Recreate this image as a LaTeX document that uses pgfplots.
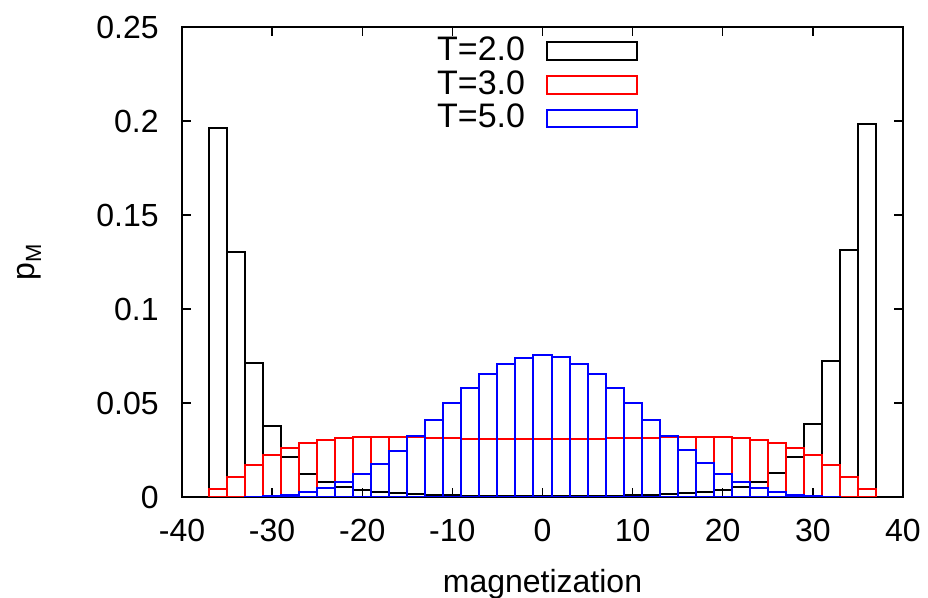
\documentclass[border=0pt]{standalone}
\usepackage{fontspec}
\setmainfont{Liberation Sans}
\usepackage{pgfplots}
\pgfplotsset{compat=1.18}
\pgfplotsset{legend image code/.code={\path (0pt,0pt); \draw[#1] (10.5pt,-4.4pt) rectangle (55.5pt,4.4pt);}}
\begin{document}
\fontsize{16}{19}\selectfont
\begin{tikzpicture}
\path[use as bounding box] (-91pt,-50.5pt) rectangle (373pt,248.5pt);
\begin{axis}[
  at={(0,0)}, anchor=south west,
  scale only axis, width=360.5pt, height=235pt,
  xmin=-40, xmax=40, ymin=0, ymax=0.25,
  axis line style={line width=0.8pt},
  xtick={-40,-30,-20,-10,0,10,20,30,40},
  xticklabels={-40,-30,-20,-10,0,10,20,30,40},
  ytick={0,0.05,0.1,0.15,0.2,0.25},
  yticklabels={0,0.05,0.1,0.15,0.2,0.25},
  tick align=inside, major tick length=4.5pt,
  tick style={line width=0.7pt, black},
  xticklabel style={anchor=base, yshift=-22.5pt, inner sep=0pt},
  yticklabel style={anchor=east, xshift=-11.5pt, inner sep=0pt},
  xlabel={magnetization},
  xlabel style={at={(axis description cs:0.5,-0.204)}, anchor=base, inner sep=0pt},
  ylabel={p\raisebox{-0.4ex}{\fontsize{11}{13}\selectfont M}},
  ylabel style={at={(axis description cs:-0.212,0.5)}, anchor=center, rotate=0},
  legend plot pos=right,
  legend cell align=right,
  legend style={draw=none, fill=none, at={(axis description cs:0.6325,1)}, anchor=north east,
    yshift=-5pt, inner sep=0pt, outer sep=0pt, row sep=2.5pt,
    font=\fontsize{17}{20}\selectfont,
    nodes={inner sep=0pt}},
]
\addplot[ybar, bar width=2, bar shift=0pt, draw=black, fill=none, line width=1pt] coordinates {
(-36,0.1964) (-34,0.1301) (-32,0.0714) (-30,0.0378) (-28,0.0213) (-26,0.0124)
(-24,0.0080) (-22,0.0052) (-20,0.0037) (-18,0.0025) (-16,0.0020) (-14,0.0014)
(-12,0.0010) (-10,0.0008) (-8,0.0007) (-6,0.0006) (-4,0.0006) (-2,0.0005)
(0,0.0005) (2,0.0005) (4,0.0006) (6,0.0006) (8,0.0007) (10,0.0008)
(12,0.0010) (14,0.0014) (16,0.0021) (18,0.0027) (20,0.0037) (22,0.0052)
(24,0.0080) (26,0.0126) (28,0.0213) (30,0.0387) (32,0.0723) (34,0.1314) (36,0.1984)
};
\addlegendentry{T=2.0}
\addplot[ybar, bar width=2, bar shift=0pt, draw=red, fill=none, line width=1pt] coordinates {
(-36,0.0043) (-34,0.0105) (-32,0.0169) (-30,0.0221) (-28,0.0261) (-26,0.0288)
(-24,0.0303) (-22,0.0314) (-20,0.0318) (-18,0.0320) (-16,0.0320) (-14,0.0318)
(-12,0.0315) (-10,0.0313) (-8,0.0311) (-6,0.0310) (-4,0.0310) (-2,0.0310)
(0,0.0310) (2,0.0310) (4,0.0310) (6,0.0311) (8,0.0312) (10,0.0313)
(12,0.0315) (14,0.0319) (16,0.0321) (18,0.0321) (20,0.0320) (22,0.0316)
(24,0.0303) (26,0.0289) (28,0.0262) (30,0.0222) (32,0.0170) (34,0.0105) (36,0.0044)
};
\addlegendentry{T=3.0}
\addplot[ybar, bar width=2, bar shift=0pt, draw=blue, fill=none, line width=1pt] coordinates {
(-32,0.0001) (-30,0.0005) (-28,0.0012) (-26,0.0025)
(-24,0.0046) (-22,0.0078) (-20,0.0121) (-18,0.0178) (-16,0.0246) (-14,0.0324)
(-12,0.0412) (-10,0.0498) (-8,0.0578) (-6,0.0653) (-4,0.0709) (-2,0.0741)
(0,0.0757) (2,0.0743) (4,0.0709) (6,0.0654) (8,0.0580) (10,0.0498)
(12,0.0411) (14,0.0326) (16,0.0248) (18,0.0179) (20,0.0122) (22,0.0079)
(24,0.0048) (26,0.0025) (28,0.0011) (30,0.0005) (32,0.0001)
};
\addlegendentry{T=5.0}
\end{axis}
\end{tikzpicture}
\end{document}
